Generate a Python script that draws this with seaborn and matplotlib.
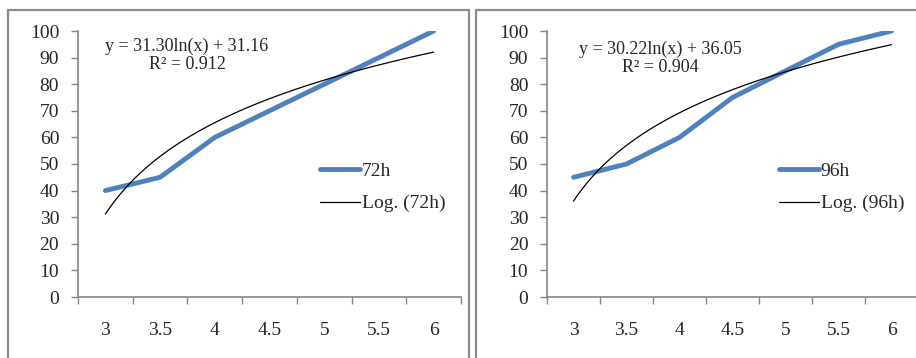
import numpy as np
import matplotlib
matplotlib.use("Agg")
import matplotlib.pyplot as plt
import seaborn as sns
from matplotlib.patches import Rectangle
from matplotlib.ticker import FixedLocator

sns.set_theme(style="white")
plt.rcParams["font.family"] = ["Liberation Serif", "DejaVu Serif"]

# dados
categorias = ["3", "3.5", "4", "4.5", "5", "5.5", "6"]
valores_72h = [40, 45, 60, 70, 80, 90, 100]
valores_96h = [45, 50, 60, 75, 85, 95, 100]
# coeficientes das linhas de tendencia (Excel: y = a ln(x) + b, x = 1..n)
coef_72h = (31.30, 31.16)
coef_96h = (30.22, 36.05)
r2_72h = 0.912
r2_96h = 0.904

W, H = 916, 358
AZUL = "#4F81BD"
CINZA = "#868686"

fig = plt.figure(figsize=(W / 100, H / 100), dpi=100)


def px(x0, y0, w, h):
    return [x0 / W, 1 - (y0 + h) / H, w / W, h / H]


def painel(rect, valores, coef, r2, nome, eq_xy, leg_xy):
    ax = fig.add_axes(rect)
    idx = np.arange(len(categorias))
    sns.lineplot(x=idx, y=valores, ax=ax, color=AZUL, lw=3.5,
                 label=nome, solid_capstyle="round")
    xs = np.linspace(0, len(categorias) - 1, 200)
    a, b = coef
    sns.lineplot(x=xs, y=a * np.log(xs + 1) + b, ax=ax, color="black",
                 lw=0.9, label=f"Log. ({nome})")
    ax.set_xlim(-0.5, len(categorias) - 0.5)
    ax.set_ylim(0, 100)
    ax.set_yticks(range(0, 101, 10))
    ax.xaxis.set_major_locator(FixedLocator(np.arange(-0.5, len(categorias), 1)))
    ax.set_xticklabels([])
    ax.xaxis.set_minor_locator(FixedLocator(idx))
    ax.set_xticklabels(categorias, minor=True)
    ax.tick_params(axis="x", which="major", length=5, width=1, color=CINZA,
                   direction="out", bottom=True)
    ax.tick_params(axis="x", which="minor", length=0, pad=18, labelsize=14,
                   bottom=True)
    ax.tick_params(axis="y", length=5, width=1, color=CINZA, direction="out",
                   left=True, pad=8.5, labelsize=14)
    for s in ["top", "right"]:
        ax.spines[s].set_visible(False)
    for s in ["left", "bottom"]:
        ax.spines[s].set_color(CINZA)
        ax.spines[s].set_linewidth(1.2)
    ax.set_facecolor("none")
    ax.grid(False)
    ax.set_xlabel("")
    ax.set_ylabel("")
    fig.text(eq_xy[0] / W, 1 - eq_xy[1] / H,
             f"y = {a:.2f}ln(x) + {b:.2f}\nR² = {r2:.3f}",
             ha="center", va="center", fontsize=13, linespacing=1.1,
             multialignment="center")
    ax.legend(loc="upper left", bbox_to_anchor=(leg_xy[0] / W, 1 - leg_xy[1] / H),
              bbox_transform=fig.transFigure, frameon=False, fontsize=14,
              borderpad=0, borderaxespad=0, handlelength=2.05,
              handletextpad=0.1, labelspacing=0.78)
    return ax


# molduras (a base fica fora da imagem)
fig.add_artist(Rectangle((7.5 / W, -0.1), (469 - 7.5) / W, 1.1 - 9.5 / H,
                         transform=fig.transFigure, fill=False,
                         edgecolor="#8c8c8c", lw=1.6))
fig.add_artist(Rectangle((475.5 / W, -0.1), (W + 10 - 475.5) / W, 1.1 - 9.5 / H,
                         transform=fig.transFigure, fill=False,
                         edgecolor="#8c8c8c", lw=1.6))

painel(px(78, 31, 383, 266), valores_72h, coef_72h, r2_72h, "72h",
       (187, 55), (320, 162))
painel(px(547, 31, 371, 266), valores_96h, coef_96h, r2_96h, "96h",
       (660, 58), (779, 162))

fig.savefig("out.png", dpi=100)
